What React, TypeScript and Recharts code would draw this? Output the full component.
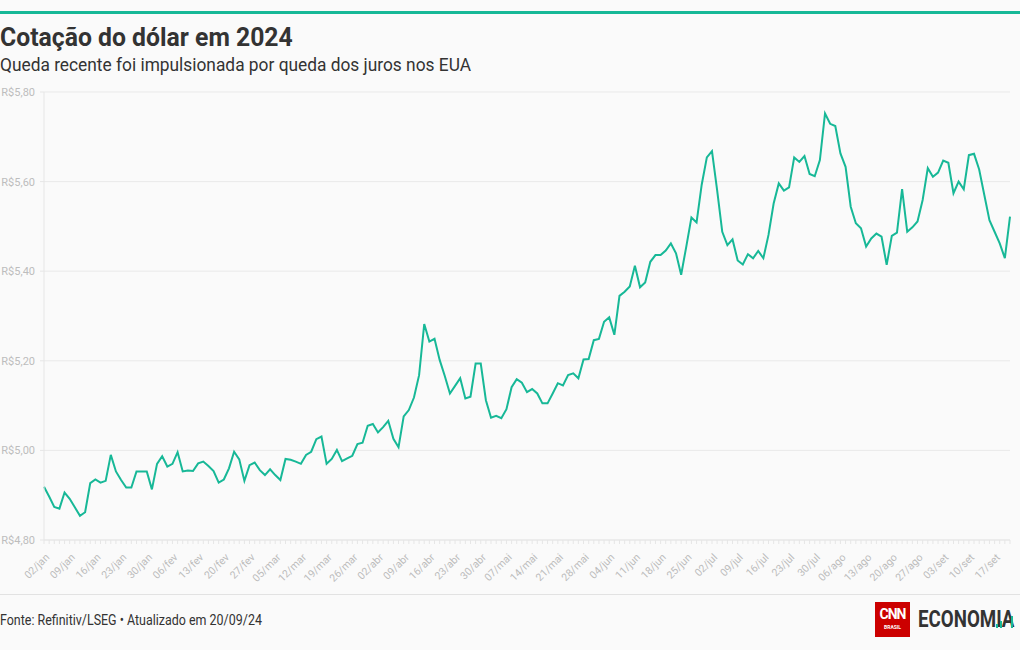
import React from 'react';
import { LineChart, Line, XAxis, YAxis, CartesianGrid } from 'recharts';

// Weekly tick labels (every 5th business day, starting 02/jan)
const weekLabels = [
  '02/jan', '09/jan', '16/jan', '23/jan', '30/jan', '06/fev', '13/fev', '20/fev', '27/fev',
  '05/mar', '12/mar', '19/mar', '26/mar', '02/abr', '09/abr', '16/abr', '23/abr', '30/abr',
  '07/mai', '14/mai', '21/mai', '28/mai', '04/jun', '11/jun', '18/jun', '25/jun', '02/jul',
  '09/jul', '16/jul', '23/jul', '30/jul', '06/ago', '13/ago', '20/ago', '27/ago', '03/set',
  '10/set', '17/set',
];

const yTicks = [4.8, 5.0, 5.2, 5.4, 5.6, 5.8];

// Daily closing values (business days) by month
const jan = [4.919, 4.897, 4.874, 4.870, 4.906, 4.892, 4.873, 4.854, 4.862, 4.927, 4.935, 4.928, 4.932, 4.990, 4.953, 4.934, 4.917, 4.917, 4.953, 4.953, 4.953, 4.913];
const fev = [4.970, 4.987, 4.964, 4.970, 4.996, 4.953, 4.955, 4.954, 4.971, 4.975, 4.965, 4.954, 4.928, 4.935, 4.960, 4.997, 4.980, 4.932, 4.967, 4.973, 4.956];
const mar = [4.945, 4.958, 4.945, 4.934, 4.981, 4.979, 4.975, 4.970, 4.990, 4.997, 5.025, 5.031, 4.970, 4.981, 5.001, 4.976, 4.982, 4.988, 5.014, 5.017, 5.055];
const abr = [5.059, 5.040, 5.052, 5.066, 5.026, 5.007, 5.076, 5.090, 5.118, 5.168, 5.282, 5.243, 5.249, 5.202, 5.166, 5.127, 5.144, 5.161, 5.116, 5.120, 5.194, 5.194];
const mai = [5.112, 5.073, 5.077, 5.072, 5.092, 5.141, 5.159, 5.151, 5.130, 5.137, 5.127, 5.105, 5.105, 5.127, 5.150, 5.145, 5.168, 5.172, 5.161, 5.203, 5.204, 5.246, 5.249];
const jun = [5.287, 5.297, 5.258, 5.345, 5.354, 5.366, 5.412, 5.364, 5.375, 5.421, 5.436, 5.436, 5.446, 5.462, 5.440, 5.392, 5.455, 5.520, 5.509, 5.593];
const jul = [5.654, 5.668, 5.581, 5.488, 5.458, 5.471, 5.424, 5.415, 5.438, 5.429, 5.445, 5.429, 5.481, 5.551, 5.596, 5.580, 5.587, 5.654, 5.644, 5.657, 5.617, 5.612, 5.648];
const ago = [5.752, 5.729, 5.724, 5.663, 5.633, 5.544, 5.507, 5.496, 5.455, 5.473, 5.484, 5.477, 5.414, 5.479, 5.486, 5.583, 5.488, 5.498, 5.511, 5.559, 5.630, 5.611];
const sete = [5.620, 5.647, 5.642, 5.574, 5.600, 5.583, 5.659, 5.662, 5.627, 5.570, 5.514, 5.488, 5.462, 5.429, 5.522];

const values = [...jan, ...fev, ...mar, ...abr, ...mai, ...jun, ...jul, ...ago, ...sete];
const data = values.map((v, i) => ({ i, v }));
const allIdx = values.map((_, i) => i);

const TEAL = '#17b897';
const FONT = 'Roboto, "Noto Sans", sans-serif';

const XTick = (props: any) => {
  const { x, y, payload } = props;
  const v = payload.value as number;
  if (v % 5 !== 0) return <g />;
  const label = weekLabels[v / 5];
  const ax = x + 6;
  const ay = y + 12;
  return (
    <text
      x={ax}
      y={ay}
      transform={`rotate(-45, ${ax}, ${ay})`}
      textAnchor="end"
      fontSize={10.5}
      fill="#bcbcbc"
      fontFamily={FONT}
    >
      {label}
    </text>
  );
};

const fmtY = (v: number) => 'R$' + v.toFixed(2).replace('.', ',');

export default function App() {
  return (
    <div
      style={{
        position: 'absolute',
        left: 0,
        top: 0,
        width: 1020,
        height: 650,
        background: '#fafafa',
        fontFamily: FONT,
        overflow: 'hidden',
      }}
    >
      <div style={{ position: 'absolute', left: 0, top: 11, width: 1020, height: 3, background: TEAL }} />
      <div
        style={{
          position: 'absolute',
          left: 0,
          top: 25,
          fontSize: 25,
          lineHeight: '25px',
          fontWeight: 700,
          color: '#333',
          whiteSpace: 'nowrap',
          transform: 'scaleX(0.99)',
          transformOrigin: 'left top',
        }}
      >
        Cotação do dólar em 2024
      </div>
      <div
        style={{
          position: 'absolute',
          left: 0,
          top: 57,
          fontSize: 17.5,
          lineHeight: '17.5px',
          color: '#333',
          whiteSpace: 'nowrap',
          transform: 'scaleX(0.99)',
          transformOrigin: 'left top',
        }}
      >
        Queda recente foi impulsionada por queda dos juros nos EUA
      </div>

      <div style={{ position: 'absolute', left: 0, top: 0 }}>
        <LineChart width={1020} height={592} data={data} margin={{ top: 92, right: 10, bottom: 0, left: 0 }}>
          <CartesianGrid vertical={false} stroke="#e9e9e9" />
          <XAxis
            dataKey="i"
            type="number"
            domain={[0, values.length - 1]}
            ticks={allIdx}
            interval={0}
            height={52}
            tickSize={4}
            axisLine={{ stroke: '#e6e6e6' }}
            tickLine={{ stroke: '#e6e6e6' }}
            tick={<XTick />}
          />
          <YAxis
            domain={[4.8, 5.8]}
            ticks={yTicks}
            width={44}
            tickSize={4}
            tickMargin={5}
            tickFormatter={fmtY}
            axisLine={{ stroke: '#e6e6e6' }}
            tickLine={{ stroke: '#e6e6e6' }}
            tick={{ fontSize: 11, fill: '#bdbdbd', fontFamily: FONT }}
          />
          <Line
            type="linear"
            dataKey="v"
            stroke={TEAL}
            strokeWidth={2}
            dot={false}
            isAnimationActive={false}
          />
        </LineChart>
      </div>

      <div style={{ position: 'absolute', left: 0, top: 594, width: 1020, height: 1, background: '#e2e2e2' }} />
      <div
        style={{
          position: 'absolute',
          left: 0,
          top: 613,
          fontSize: 14,
          lineHeight: '14px',
          color: '#333',
          whiteSpace: 'nowrap',
          transform: 'scaleX(0.89)',
          transformOrigin: 'left top',
        }}
      >
        Fonte: Refinitiv/LSEG • Atualizado em 20/09/24
      </div>

      <svg style={{ position: 'absolute', left: 870, top: 598 }} width={40} height={44}>
        <rect x={5} y={4} width={35} height={35} fill="#cc0000" />
        <text x={22.5} y={21} textAnchor="middle" fontSize={14} fontWeight={700} fill="#fff" fontFamily={FONT} letterSpacing={-1}>
          CNN
        </text>
        <text x={22.5} y={31} textAnchor="middle" fontSize={5} fontWeight={700} fill="#fff" fontFamily={FONT}>
          BRASIL
        </text>
      </svg>
      <div
        style={{
          position: 'absolute',
          left: 918,
          top: 607,
          fontSize: 24,
          lineHeight: '24px',
          fontWeight: 700,
          color: '#333',
          whiteSpace: 'nowrap',
          transform: 'scaleX(0.78)',
          transformOrigin: 'left top',
        }}
      >
        ECONOMIA
      </div>
      <svg style={{ position: 'absolute', left: 990, top: 616 }} width={26} height={14}>
        <rect x={6} y={8} width={2} height={4} fill={TEAL} />
        <rect x={10} y={5} width={2} height={7} fill={TEAL} />
        <rect x={21} y={0} width={2} height={12} fill={TEAL} />
      </svg>
    </div>
  );
}
